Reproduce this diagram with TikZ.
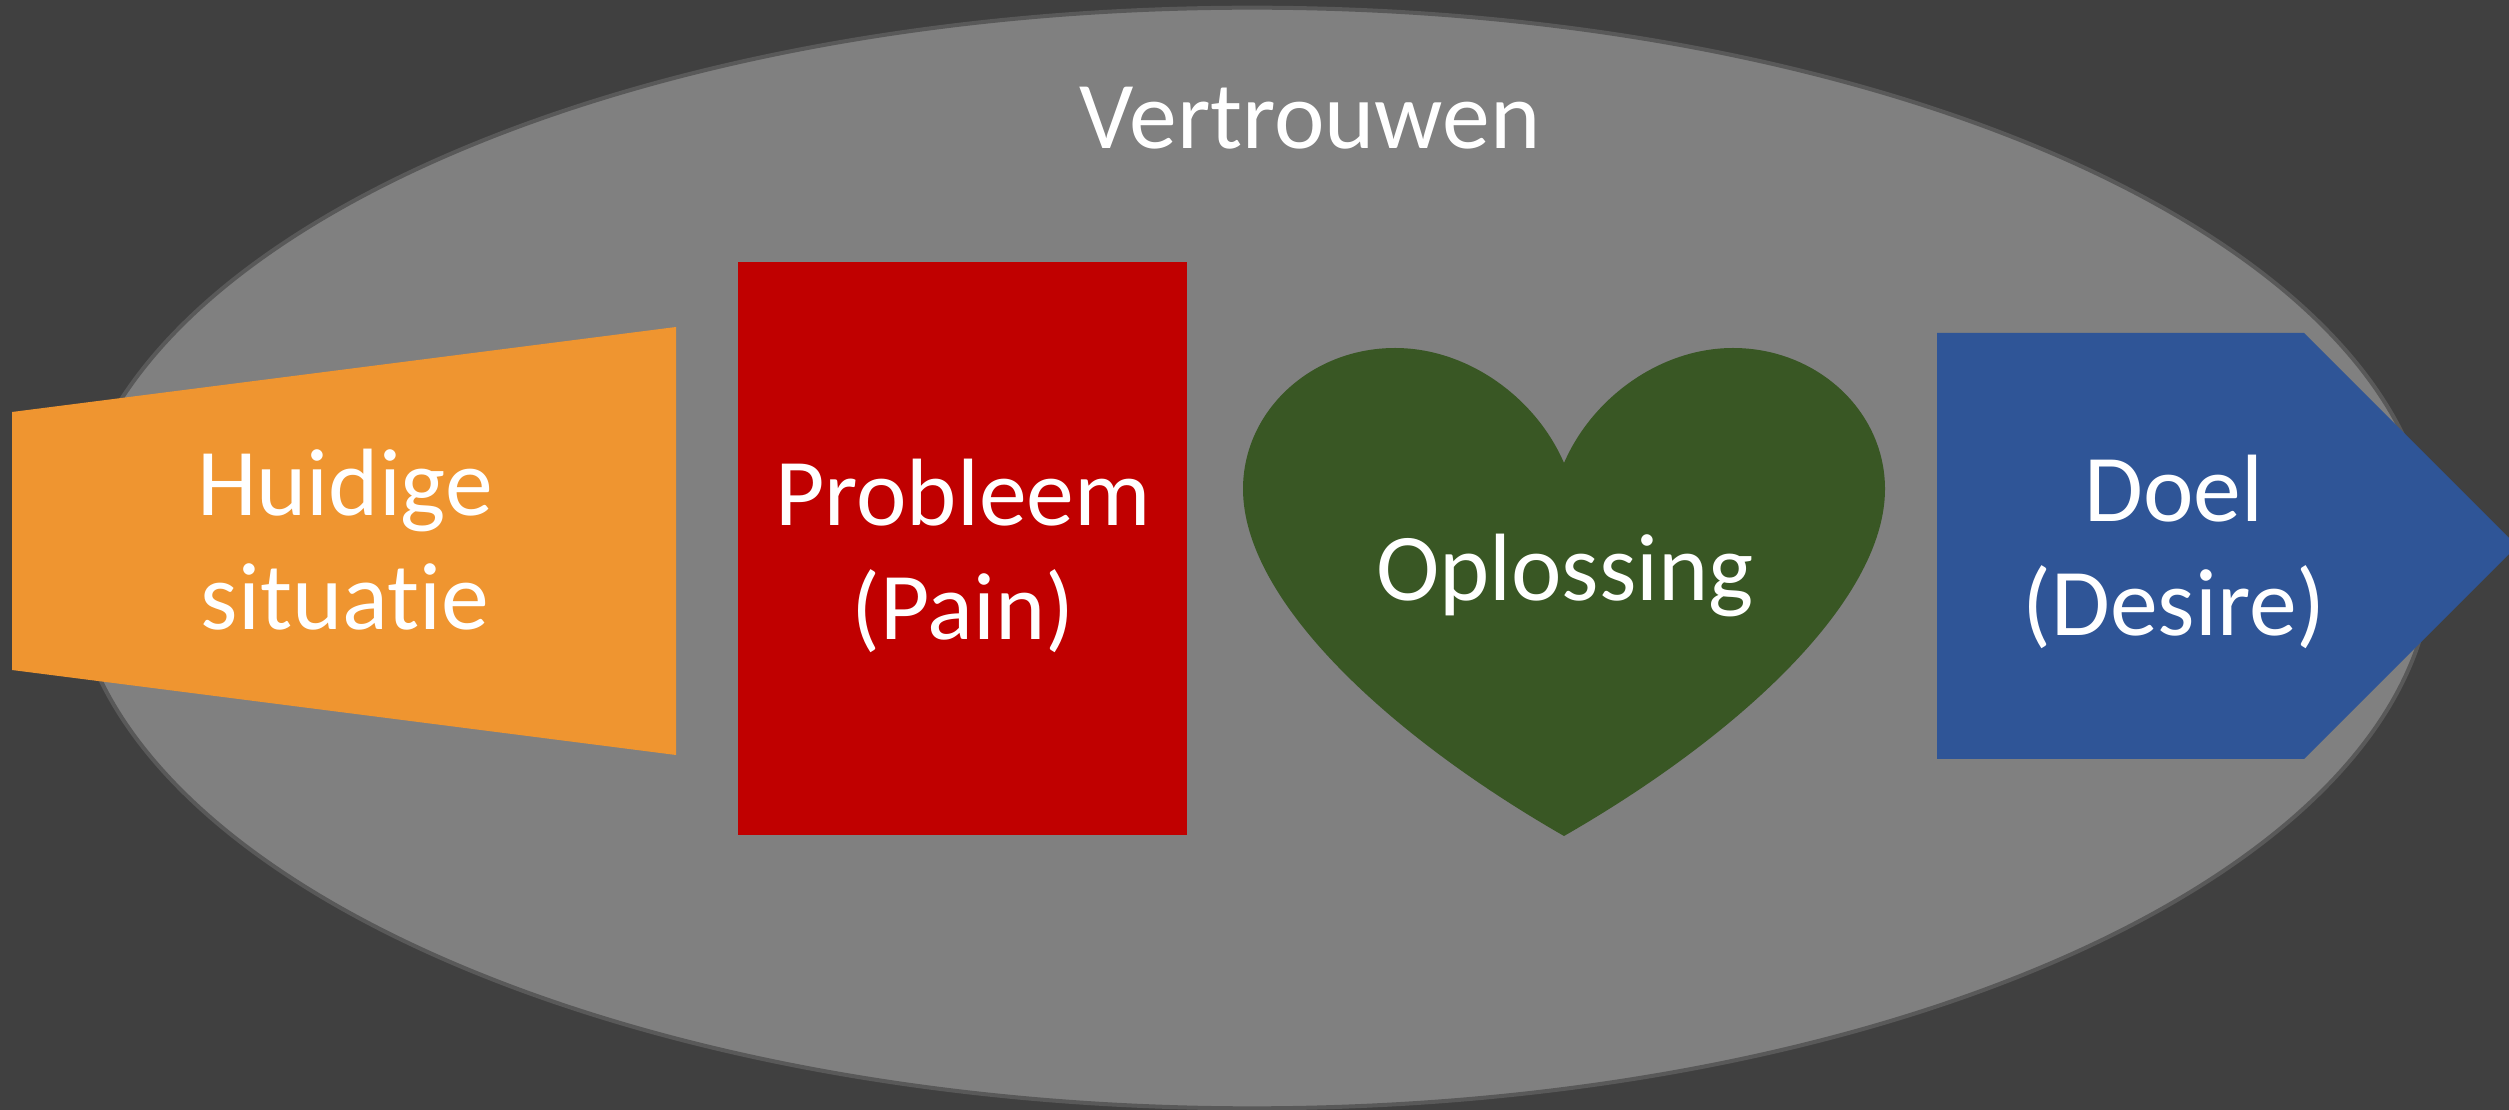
\documentclass[tikz,border=0pt]{standalone}
\usepackage{fontspec}
\setmainfont{Carlito}[Ligatures={NoCommon,NoRare}]
\definecolor{bgdark}{RGB}{64,64,64}
\definecolor{ellfill}{RGB}{128,128,128}
\definecolor{ellline}{RGB}{89,89,89}
\definecolor{orng}{RGB}{239,149,48}
\definecolor{redbox}{RGB}{192,0,0}
\definecolor{heartgreen}{RGB}{57,87,36}
\definecolor{bluearrow}{RGB}{47,85,151}
\begin{document}
\begin{tikzpicture}[x=0.01cm,y=-0.01cm,
  lbl/.style={text=white,align=center,anchor=base,inner sep=0pt,
    font=\fontsize{27.2}{32.7}\selectfont}]
\useasboundingbox (0,0) rectangle (2509,1110);
\fill[bgdark] (0,0) rectangle (2509,1110);
% trust ellipse
\draw[ellline,line width=0.04cm,fill=ellfill] (1252,558) ellipse [x radius=11.8cm, y radius=5.5cm];
% current situation (trapezoid)
\fill[orng] (12,412) -- (676,327) -- (676,755) -- (12,670) -- cycle;
% problem (rectangle)
\fill[redbox] (738,262) rectangle (1187,835);
% solution (heart)
\fill[heartgreen] (1564,463) .. controls (1592,398) and (1660,348) .. (1733,348)
  .. controls (1817,348) and (1885,411) .. (1885,489)
  .. controls (1885,600) and (1740,735) .. (1564,836)
  .. controls (1388,735) and (1243,600) .. (1243,489)
  .. controls (1243,411) and (1311,348) .. (1395,348)
  .. controls (1468,348) and (1536,398) .. (1564,463) -- cycle;
% goal (pentagon arrow)
\fill[bluearrow] (1937,333) -- (2304,333) -- (2517,546) -- (2304,759) -- (1937,759) -- cycle;
% labels (base anchor = baseline of the last line)
\node[lbl] (vertrouwen) at (1310,149) {Vertrouwen};
\node[lbl] (huidige) at (345,630) {Huidige\\situatie};
\node[lbl] (probleem) at (963,640) {Probleem\\(Pain)};
\node[lbl] (oplossing) at (1565,601) {Oplossing};
\node[lbl] (doel) at (2174,636) {Doel\\(Desire)};
\end{tikzpicture}
\end{document}
